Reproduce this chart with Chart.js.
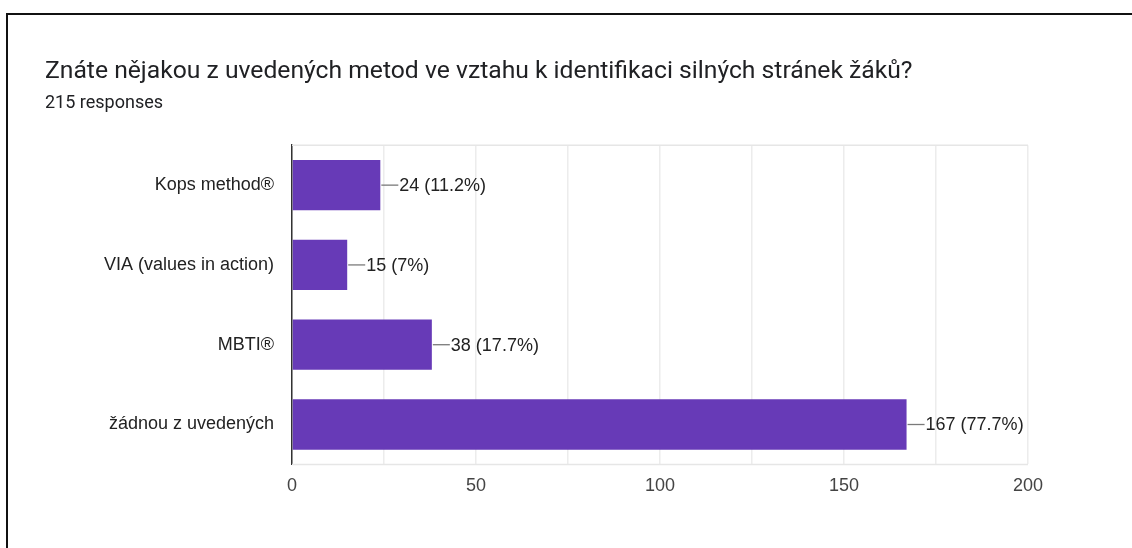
<!DOCTYPE html>
<html>
<head>
<meta charset="utf-8">
<script src="https://cdn.jsdelivr.net/npm/chart.js@4"></script>
<style>
  body { margin: 0; background: #fff; }
  #wrap { position: relative; width: 1132px; height: 548px; overflow: hidden; }
  #frame {
    position: absolute; left: 6px; top: 13px; right: -10px; bottom: -10px;
    border-top: 2px solid #111; border-left: 2px solid #111;
    pointer-events: none;
  }
</style>
</head>
<body>
<div id="wrap">
  <canvas id="canvas" width="1132" height="548"></canvas>
  <div id="frame"></div>
</div>
<script>
// data
const question = 'Znáte nějakou z uvedených metod ve vztahu k identifikaci silných stránek žáků?';
const totalResponses = 215;
const categories = ['Kops method®', 'VIA (values in action)', 'MBTI®', 'žádnou z uvedených'];
const counts = [24, 15, 38, 167];
const xTicksShown = [0, 50, 100, 150, 200];

const purple = '#673ab7';

// value label with little leader line, e.g. "24 (11.2%)"
const valueLabels = {
    id: 'valueLabels',
    afterDatasetsDraw(chart) {
        const ctx = chart.ctx;
        const meta = chart.getDatasetMeta(0);
        ctx.save();
        ctx.font = '18px "Liberation Sans", Arial, sans-serif';
        ctx.textBaseline = 'middle';
        meta.data.forEach((bar, i) => {
            const v = counts[i];
            const pct = Math.round(v / totalResponses * 1000) / 10;
            ctx.strokeStyle = '#7a7a7a';
            ctx.lineWidth = 1.3;
            ctx.beginPath();
            ctx.moveTo(bar.x + 1, bar.y);
            ctx.lineTo(bar.x + 18, bar.y);
            ctx.stroke();
            ctx.fillStyle = '#222';
            ctx.fillText(`${v} (${pct}%)`, bar.x + 19, bar.y + 1);
        });
        ctx.restore();
    }
};

// top and bottom border of plot area
const areaBorder = {
    id: 'areaBorder',
    beforeDatasetsDraw(chart) {
        const { ctx, chartArea: a } = chart;
        ctx.save();
        ctx.strokeStyle = '#e6e6e6';
        ctx.lineWidth = 1.5;
        ctx.beginPath();
        ctx.moveTo(a.left, a.top);
        ctx.lineTo(a.right, a.top);
        ctx.moveTo(a.left, a.bottom);
        ctx.lineTo(a.right, a.bottom);
        ctx.stroke();
        ctx.restore();
    }
};

new Chart(document.querySelector('#canvas'), {
    type: 'bar',
    data: {
        labels: categories,
        datasets: [{
            data: counts,
            backgroundColor: purple,
            borderWidth: 0,
            barPercentage: 0.63,
            categoryPercentage: 1
        }]
    },
    options: {
        indexAxis: 'y',
        responsive: false,
        animation: false,
        layout: { padding: { left: 45, top: 57, right: 104, bottom: 40 } },
        plugins: {
            legend: { display: false },
            tooltip: { enabled: false },
            title: {
                display: true,
                text: question,
                align: 'start',
                color: '#202124',
                font: { family: 'Roboto', size: 24.7, weight: 'normal' },
                padding: { top: 0, bottom: 6 }
            },
            subtitle: {
                display: true,
                text: `${totalResponses} responses`,
                align: 'start',
                color: '#202124',
                font: { family: 'Roboto', size: 18, weight: 'normal' },
                padding: { top: 0, bottom: 31 }
            }
        },
        scales: {
            x: {
                min: 0,
                max: 200,
                ticks: {
                    stepSize: 25,
                    padding: 11,
                    color: '#444',
                    font: { family: '"Liberation Sans", Arial, sans-serif', size: 18 },
                    callback: (v) => xTicksShown.includes(v) ? v : ''
                },
                grid: { color: '#ececec', lineWidth: 1.5, drawTicks: false },
                border: { display: false }
            },
            y: {
                ticks: {
                    padding: 18,
                    color: '#222',
                    font: { family: '"Liberation Sans", Arial, sans-serif', size: 18 }
                },
                grid: { display: false, drawTicks: false },
                border: { display: true, color: '#333', width: 1.5 },
                afterFit(scale) { scale.width = 247; }
            }
        }
    },
    plugins: [areaBorder, valueLabels]
});
</script>
</body>
</html>
